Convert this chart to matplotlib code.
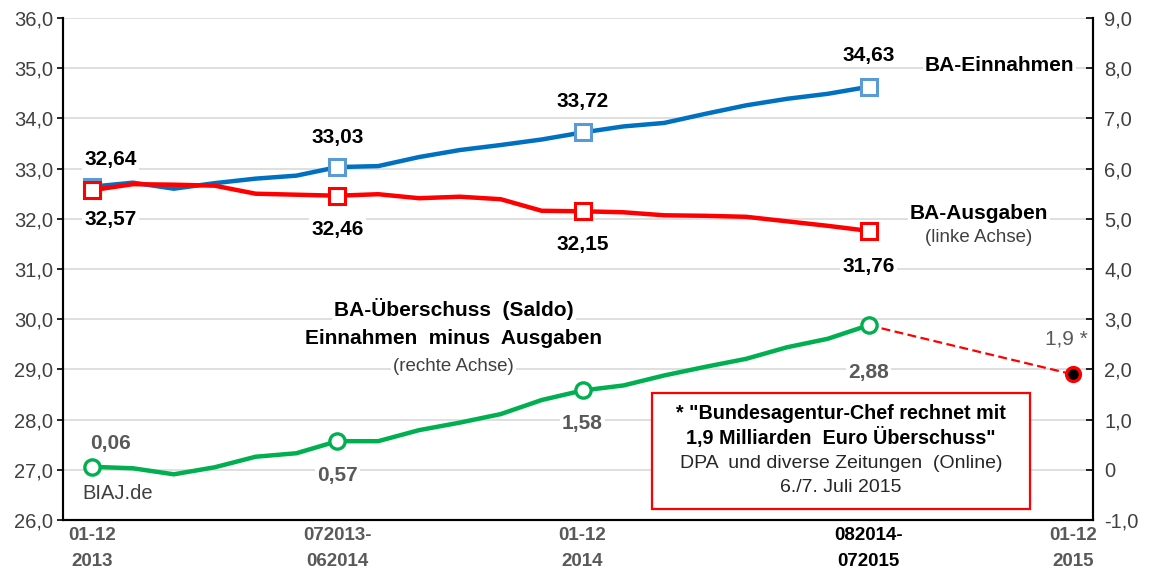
import matplotlib.pyplot as plt
from matplotlib.patches import Rectangle
from matplotlib.ticker import FuncFormatter

plt.rcParams['font.family'] = ['Liberation Sans', 'DejaVu Sans']

# months from 01-12 2013 (idx 0) to 082014-072015 (idx 19), forecast 01-12 2015 at idx 24
months = list(range(20))
einnahmen = [32.64, 32.72, 32.60, 32.71, 32.80, 32.86, 33.03, 33.05, 33.23, 33.37,
             33.47, 33.58, 33.72, 33.84, 33.91, 34.09, 34.26, 34.39, 34.49, 34.63]
ausgaben = [32.57, 32.69, 32.68, 32.66, 32.50, 32.48, 32.46, 32.49, 32.41, 32.44,
            32.39, 32.16, 32.15, 32.13, 32.07, 32.06, 32.04, 31.95, 31.86, 31.76]
saldo = [0.06, 0.03, -0.09, 0.05, 0.26, 0.33, 0.57, 0.57, 0.79, 0.94,
         1.11, 1.39, 1.58, 1.68, 1.88, 2.05, 2.21, 2.44, 2.61, 2.88]
marker_idx = [0, 6, 12, 19]
forecast_x = 24
forecast_val = 1.9

tick_pos = [0, 6, 12, 19, 24]
tick_labels = ['01-12\n2013', '072013-\n062014', '01-12\n2014', '082014-\n072015', '01-12\n2015']

blue = '#0070C0'
blue_m = '#5B9BD5'
red = '#FF0000'
green = '#00B050'
gray = '#595959'

fig = plt.figure(figsize=(11.57, 5.81), dpi=100)
ax = fig.add_axes([0.0545, 0.105, 0.8902, 0.864])
ax2 = ax.twinx()

ax.set_xlim(-0.71, 24.49)
ax.set_ylim(26, 36)
ax2.set_ylim(-1, 9)

ax.set_yticks(range(26, 37))
ax2.set_yticks(range(-1, 10))
ax.yaxis.set_major_formatter(FuncFormatter(lambda v, p: ('%.1f' % v).replace('.', ',')))
ax2.yaxis.set_major_formatter(FuncFormatter(lambda v, p: '0' if v == 0 else ('%.1f' % v).replace('.', ',')))
ax.grid(axis='y', color='#D9D9D9', lw=1.2)
ax.set_axisbelow(True)

for a in (ax, ax2):
    a.spines['top'].set_visible(False)
    a.spines['left'].set_linewidth(1.5)
    a.spines['right'].set_linewidth(1.5)
    a.spines['bottom'].set_linewidth(1.5)
ax.tick_params(axis='y', direction='out', length=4, width=1.2, labelsize=14.5, labelcolor='#404040', pad=3)
ax2.tick_params(axis='y', direction='in', length=5, width=1.2, labelsize=14.5, labelcolor='#404040', pad=8)
ax.set_xticks(tick_pos)
ax.set_xticklabels(tick_labels, fontsize=13.5, fontweight='bold', color=gray, linespacing=1.7)
ax.get_xticklabels()[3].set_color('black')
ax.tick_params(axis='x', length=0, pad=5)

# lines
ax.plot(months, einnahmen, color=blue, lw=3.2, zorder=3)
ax.plot([months[i] for i in marker_idx], [einnahmen[i] for i in marker_idx], ls='none',
        marker='s', ms=11, mfc='white', mec=blue_m, mew=2.2, zorder=4)
ax.plot(months, ausgaben, color=red, lw=3.2, zorder=3)
ax.plot([months[i] for i in marker_idx], [ausgaben[i] for i in marker_idx], ls='none',
        marker='s', ms=11, mfc='white', mec=red, mew=2.2, zorder=4)
ax2.plot(months, saldo, color=green, lw=3.2, zorder=3)
ax2.plot([months[-1], forecast_x], [saldo[-1], forecast_val], color=red, lw=1.6, ls=(0, (4, 2)), zorder=3)
ax2.plot([months[i] for i in marker_idx], [saldo[i] for i in marker_idx], ls='none',
         marker='o', ms=11, mfc='white', mec=green, mew=2.4, zorder=4)
ax2.plot([forecast_x], [forecast_val], ls='none', marker='o', ms=10, mfc='black', mec=red, mew=2.4, zorder=4)

wb = dict(facecolor='white', edgecolor='none', pad=1.5)
fmt = lambda v: ('%.2f' % v).replace('.', ',')

# data labels
up_b = [33.18, 33.62, 34.34, 35.26]
dn_r = [31.99, 31.78, 31.48, 31.04]
for k, i in enumerate(marker_idx):
    dx = 0.45 if i == 0 else 0
    ax.text(i + dx, up_b[k], fmt(einnahmen[i]), ha='center', va='center', fontsize=15,
            fontweight='bold', color='black', bbox=wb, zorder=5)
    ax.text(i + dx, dn_r[k], fmt(ausgaben[i]), ha='center', va='center', fontsize=15,
            fontweight='bold', color='black', bbox=wb, zorder=5)

lab_g = [0.52, -0.12, 0.92, 1.94]
for k, i in enumerate(marker_idx):
    dx = 0.45 if i == 0 else 0
    ax2.text(i + dx, lab_g[k], fmt(saldo[i]), ha='center', va='center', fontsize=15,
             fontweight='bold', color=gray, bbox=wb, zorder=5)
ax2.text(forecast_x - 0.15, 2.6, '1,9 *', ha='center', va='center', fontsize=15,
         color=gray, zorder=5)

ax.text(0.62, 26.52, 'BIAJ.de', ha='center', va='center', fontsize=14.5, color='#404040')

ax.text(22.2, 35.06, 'BA-Einnahmen', ha='center', va='center', fontsize=15,
        fontweight='bold', bbox=wb, zorder=5)
ax.text(21.7, 32.1, 'BA-Ausgaben', ha='center', va='center', fontsize=15,
        fontweight='bold', bbox=wb, zorder=5)
ax.text(21.7, 31.62, '(linke Achse)', ha='center', va='center', fontsize=13.5,
        color='#404040', bbox=wb, zorder=5)

ax.text(8.85, 30.2, 'BA-Überschuss  (Saldo)', ha='center', va='center', fontsize=15,
        fontweight='bold', bbox=wb, zorder=5)
ax.text(8.85, 29.62, 'Einnahmen  minus  Ausgaben', ha='center', va='center', fontsize=15,
        fontweight='bold', bbox=wb, zorder=5)
ax.text(8.85, 29.06, '(rechte Achse)', ha='center', va='center', fontsize=13.5,
        color='#404040', bbox=wb, zorder=5)

# source box
ax.add_patch(Rectangle((13.7, 26.22), 9.25, 2.3, facecolor='white', edgecolor=red, lw=1.6, zorder=5))
bx = 13.7 + 9.25 / 2
ax.text(bx, 28.12, '* "Bundesagentur-Chef rechnet mit', ha='center', va='center',
        fontsize=14.2, fontweight='bold', zorder=6)
ax.text(bx, 27.64, '1,9 Milliarden  Euro Überschuss"', ha='center', va='center',
        fontsize=14.2, fontweight='bold', zorder=6)
ax.text(bx, 27.12, 'DPA  und diverse Zeitungen  (Online)', ha='center', va='center',
        fontsize=14, color='#262626', zorder=6)
ax.text(bx, 26.64, '6./7. Juli 2015', ha='center', va='center',
        fontsize=14, color='#262626', zorder=6)

fig.savefig('out.png', dpi=100)
